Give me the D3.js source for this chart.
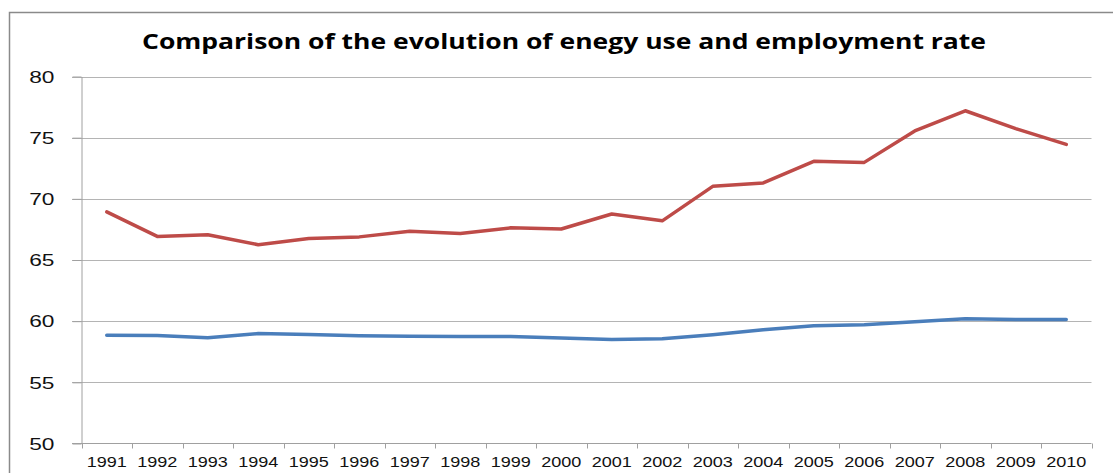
<!DOCTYPE html>
<html><head><meta charset="utf-8">
<script src="https://cdn.jsdelivr.net/npm/d3@7"></script>
<style>body{margin:0;background:#fff}svg{display:block}</style>
</head><body>
<script>
const years = ["1991","1992","1993","1994","1995","1996","1997","1998","1999","2000",
               "2001","2002","2003","2004","2005","2006","2007","2008","2009","2010"];
const energyUse = [68.93,66.93,67.07,66.25,66.75,66.89,67.35,67.16,67.63,67.53,
                   68.76,68.2,71.02,71.3,73.07,72.98,75.55,77.2,75.74,74.45];
const employmentRate = [58.85,58.83,58.64,58.99,58.91,58.8,58.77,58.75,58.75,58.62,
                        58.5,58.56,58.88,59.29,59.62,59.7,59.95,60.19,60.14,60.14];
const yTicks = [50,55,60,65,70,75,80];
const title = "Comparison of the evolution of enegy use and employment rate";

const W = 1113, H = 473;
const svg = d3.select("body").append("svg").attr("width", W).attr("height", H);

// outer chart frame (partially visible)
svg.append("path").attr("d", `M9.5,${H + 5}V12.5H${W + 5}`)
  .attr("fill", "none").attr("stroke", "#8a8a8a").attr("stroke-width", 1.5);

const x = d3.scaleBand().domain(years).range([81.5, 1091.5]);
const y = d3.scaleLinear().domain([50, 80]).range([443.5, 76.5]);

// gridlines
svg.append("g").selectAll("line").data(yTicks.filter(d => d !== 50)).join("line")
  .attr("x1", 72).attr("x2", 1091.5)
  .attr("y1", d => Math.round(y(d)) + 0.5).attr("y2", d => Math.round(y(d)) + 0.5)
  .attr("stroke", "#b4b4b4").attr("stroke-width", 1);

// y axis
const yAxis = svg.append("g").attr("transform", "translate(81.5,0)")
  .call(d3.axisLeft(y).tickValues(yTicks).tickSize(9).tickSizeOuter(0));
yAxis.select(".domain").attr("stroke", "#a0a0a0");
yAxis.selectAll(".tick line").attr("stroke", "#a0a0a0");
yAxis.selectAll(".tick text")
  .attr("x", 0).attr("dy", "0.36em")
  .attr("transform", "translate(-27,0) scale(1.42,1)")
  .attr("text-anchor", "end")
  .style("font-family", "'Liberation Sans', Arial, sans-serif")
  .style("font-size", "16px").attr("fill", "#111");

// x axis
const xAxis = svg.append("g").attr("transform", "translate(0,443.5)")
  .call(d3.axisBottom(x).tickSize(0).tickSizeOuter(0));
xAxis.select(".domain").attr("d", `M72,0H1091.5`).attr("stroke", "#a0a0a0");
xAxis.selectAll(".tick text")
  .attr("y", 23.5).attr("dy", 0)
  .attr("transform", "scale(1.29,1)")
  .style("font-family", "'Liberation Sans', Arial, sans-serif")
  .style("font-size", "14px").attr("fill", "#111");
// category boundary ticks
const bounds = years.map(d => x(d)).concat([x.range()[1]]);
xAxis.append("g").selectAll("line").data(bounds).join("line")
  .attr("x1", d => Math.round(d) + 0.5).attr("x2", d => Math.round(d) + 0.5)
  .attr("y1", 0).attr("y2", 5).attr("stroke", "#a0a0a0");

// lines
const line = vals => d3.line()
  .x((d, i) => x(years[i]) + x.bandwidth() / 2)
  .y(d => y(d))(vals);
svg.append("path").attr("d", line(employmentRate))
  .attr("fill", "none").attr("stroke", "#4a7ebb").attr("stroke-width", 3.5)
  .attr("stroke-linejoin", "round").attr("stroke-linecap", "round");
svg.append("path").attr("d", line(energyUse))
  .attr("fill", "none").attr("stroke", "#be4b48").attr("stroke-width", 3.5)
  .attr("stroke-linejoin", "round").attr("stroke-linecap", "round");

// title
svg.append("text").attr("x", 564).attr("y", 49)
  .attr("text-anchor", "middle")
  .attr("textLength", 844).attr("lengthAdjust", "spacingAndGlyphs")
  .style("font-family", "'Open Sans', sans-serif").style("font-weight", "bold")
  .style("font-size", "21px").attr("fill", "#000")
  .text(title);
</script>
</body></html>
